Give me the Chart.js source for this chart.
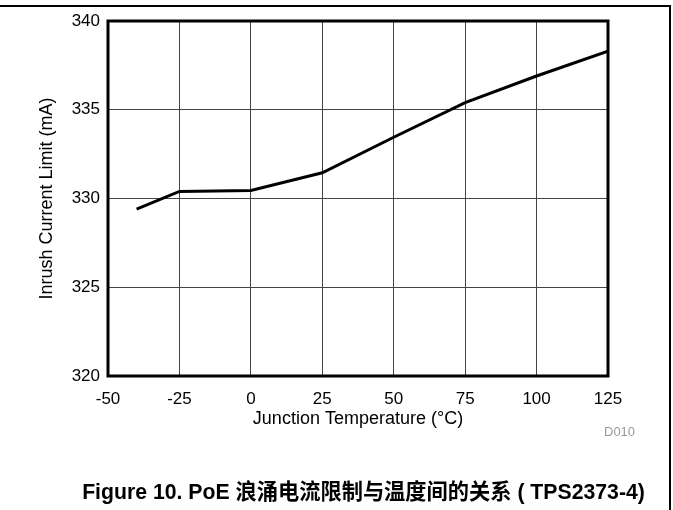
<!DOCTYPE html>
<html><head><meta charset="utf-8">
<script src="https://cdn.jsdelivr.net/npm/chart.js@4.4.1/dist/chart.umd.min.js"></script>
<style>
html,body{margin:0;padding:0;background:#fff;}
#wrap{position:relative;width:673px;height:510px;overflow:hidden;}
#c{position:absolute;left:0;top:0;}
#frame{position:absolute;left:0;top:5px;width:671px;height:520px;border-top:2px solid #000;border-right:2px solid #000;box-sizing:border-box;}
#code{position:absolute;left:604px;top:424px;font:13px "Liberation Sans",Arial,sans-serif;color:#999;}
#title{position:absolute;left:0;width:727px;top:480px;line-height:23px;text-align:center;font-family:"Liberation Sans","Noto Sans CJK SC",Arial,sans-serif;font-weight:bold;font-size:22px;color:#000;white-space:nowrap;transform:scaleX(0.965);transform-origin:363.5px 50%;}
</style></head>
<body><div id="wrap">
<canvas id="c" width="673" height="510"></canvas>
<div id="frame"></div>
<div id="code">D010</div>
<div id="title">Figure 10. PoE 浪涌电流限制与温度间的关系 ( TPS2373-4)</div>
</div>
<script>
const temperatures = [-40, -25, 0, 25, 50, 75, 100, 125];
const inrushCurrent = [329.4, 330.4, 330.45, 331.45, 333.45, 335.4, 336.9, 338.3];
const xTicks = [-50, -25, 0, 25, 50, 75, 100, 125];
const yTicks = [320, 325, 330, 335, 340];

const borderPlugin = {
  id: 'plotBorder',
  afterDraw(chart) {
    const {ctx, chartArea: a} = chart;
    ctx.save();
    ctx.strokeStyle = '#000';
    ctx.lineWidth = 3;
    ctx.strokeRect(a.left, a.top, a.right - a.left, a.bottom - a.top);
    ctx.restore();
  }
};

const tickFont = {family: '"Liberation Sans", Arial, sans-serif', size: 17};
const titleFont = {family: '"Liberation Sans", Arial, sans-serif', size: 18};

new Chart(document.getElementById('c'), {
  type: 'line',
  data: {
    datasets: [{
      data: temperatures.map((t, i) => ({x: t, y: inrushCurrent[i]})),
      borderColor: '#000',
      borderWidth: 3,
      pointRadius: 0,
      tension: 0,
      fill: false
    }]
  },
  options: {
    responsive: false,
    animation: false,
    events: [],
    layout: {padding: {left: 0, right: 65, top: 21, bottom: 74}},
    plugins: {legend: {display: false}, tooltip: {enabled: false}, title: {display: false}},
    scales: {
      x: {
        type: 'linear', min: -50, max: 125,
        afterFit(s) { s.height = 60; },
        afterBuildTicks(s) { s.ticks = xTicks.map(v => ({value: v})); },
        grid: {color: '#444', lineWidth: 1, drawTicks: false},
        border: {display: false},
        ticks: {color: '#000', font: tickFont, padding: 13, maxRotation: 0, autoSkip: false},
        title: {display: true, text: 'Junction Temperature (°C)', color: '#000', font: titleFont, padding: {top: 0, bottom: 6}}
      },
      y: {
        type: 'linear', min: 320, max: 340,
        afterFit(s) { s.width = 108; },
        afterBuildTicks(s) { s.ticks = yTicks.map(v => ({value: v})); },
        grid: {color: '#444', lineWidth: 1, drawTicks: false},
        border: {display: false},
        ticks: {color: '#000', font: tickFont, padding: 8, autoSkip: false},
        title: {display: true, text: 'Inrush Current Limit (mA)', color: '#000', font: titleFont, padding: {top: 36, bottom: 0}}
      }
    }
  },
  plugins: [borderPlugin]
});
</script>
</body></html>
